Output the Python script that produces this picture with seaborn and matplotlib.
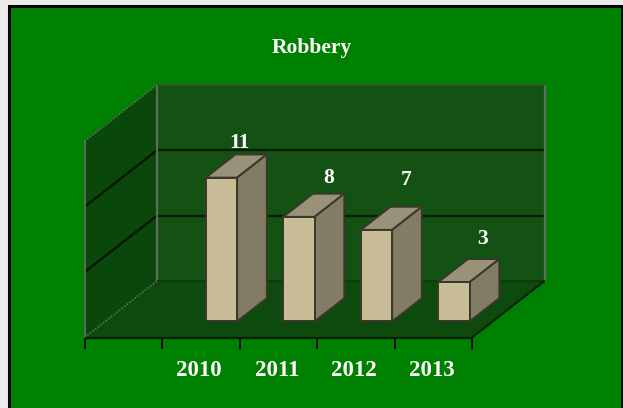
import numpy as np
import matplotlib
matplotlib.use("Agg")
import matplotlib.pyplot as plt
from matplotlib.lines import Line2D
from matplotlib.patches import Polygon, Rectangle
from matplotlib.transforms import Affine2D, IdentityTransform
import seaborn as sns

years = ["2010", "2011", "2012", "2013"]
robbery = [11, 8, 7, 3]
y_grid = [5, 10]
title = "Robbery"
label_shift = [(18, 35), (30, 39), (30, 50), (29, 43)]

W, H = 623, 408
sns.set_theme(style="white")
plt.rcParams["font.family"] = ["Liberation Serif", "DejaVu Serif"]
plt.rcParams["font.weight"] = "bold"

fig = plt.figure(figsize=(W / 100, H / 100), dpi=100, facecolor="#ebebeb")

# page panel: open at the bottom, running off the image
fig.patches.append(Rectangle((9 / W, -10 / H), (621.5 - 9) / W, (H + 10 - 6) / H, transform=fig.transFigure,
                             facecolor="#008000", edgecolor="black", linewidth=2.2, zorder=-5))

# axes = front plane of the chart box
x0, x1, yb = 84.5, 472, 337.5
ymax = 15
ppu = 13.07
ax = fig.add_axes([x0 / W, (H - yb) / H, (x1 - x0) / W, ymax * ppu / H])
ax.set_xlim(-1.5, 3.5)
ax.set_ylim(0, ymax)
ax.patch.set_visible(False)

DX, DY = 72.5, 56.5   # depth of the box in pixels
PIX = IdentityTransform()


def depth(d):
    return ax.transData + Affine2D().translate(d * DX, d * DY)


L, R = -1.5, 3.5
WALL, SIDE, FLOOR = "#145214", "#0a470a", "#0e4a0e"
EDGE = "#5d6e5d"

back, front = depth(1), depth(0)


def poly(a, b, c, d, **kw):
    pts = [t.transform(p) for t, p in (a, b, c, d)]
    ax.add_patch(Polygon(pts, closed=True, transform=PIX, clip_on=False, **kw))


poly((front, (L, 0)), (front, (L, ymax)), (back, (L, ymax)), (back, (L, 0)),
     facecolor=SIDE, edgecolor="none", zorder=1)
poly((back, (L, 0)), (back, (L, ymax)), (back, (R, ymax)), (back, (R, 0)),
     facecolor=WALL, edgecolor="none", zorder=1)
poly((front, (L, 0)), (back, (L, 0)), (back, (R, 0)), (front, (R, 0)),
     facecolor=FLOOR, edgecolor="none", zorder=1)


def seg(a, b, color, lw, ls="-", z=2):
    p, q = a[0].transform(a[1]), b[0].transform(b[1])
    ax.add_line(Line2D([p[0], q[0]], [p[1], q[1]], transform=PIX, color=color, lw=lw, ls=ls,
                       clip_on=False, zorder=z, solid_capstyle="butt"))


for v in y_grid:
    seg((front, (L, v)), (back, (L, v)), "#021802", 1.7)
    seg((back, (L, v)), (back, (R, v)), "#031c03", 1.7)

seg((front, (L, 0)), (front, (L, ymax)), EDGE, 1.4)
seg((back, (L, 0)), (back, (L, ymax)), EDGE, 1.6)
seg((back, (R, 0)), (back, (R, ymax)), EDGE, 1.6)
seg((back, (L, ymax)), (back, (R, ymax)), "#2c5a2c", 1.2)
seg((front, (L, ymax)), (back, (L, ymax)), EDGE, 1.2, ls=(0, (1, 1)))
seg((front, (L, 0)), (back, (L, 0)), EDGE, 1.2, ls=(0, (1, 1)))
seg((back, (L, 0)), (back, (R, 0)), "#0a3a0a", 1.2)
seg((front, (L, 0)), (front, (R, 0)), "#052005", 1.6, z=6)
seg((front, (R, 0)), (back, (R, 0)), "#052005", 1.4, z=6)

# bars
D0, DB = 0.285, 0.41
BW = 0.405
FACE, TOP, RIGHT, OUT = "#c8bd96", "#9a9278", "#827c64", "#38382a"
sns.barplot(x=years, y=robbery, ax=ax, width=BW, color=FACE, saturation=1,
            edgecolor=OUT, linewidth=1.4, zorder=5)
ax.set_xlim(-1.5, 3.5)
ax.set_ylim(0, ymax)
bars = list(ax.containers[0])
tb0 = depth(D0)
tb1 = depth(D0 + DB)
for bar in bars:
    bar.set_transform(tb0)
    bar.set_clip_on(False)
    xa, xb, h = bar.get_x(), bar.get_x() + bar.get_width(), bar.get_height()
    poly((tb0, (xa, h)), (tb1, (xa, h)), (tb1, (xb, h)), (tb0, (xb, h)),
         facecolor=TOP, edgecolor=OUT, linewidth=1.4, zorder=4, joinstyle="round")
    poly((tb0, (xb, 0)), (tb0, (xb, h)), (tb1, (xb, h)), (tb1, (xb, 0)),
         facecolor=RIGHT, edgecolor=OUT, linewidth=1.4, zorder=4, joinstyle="round")

# value labels
for i, (bar, v) in enumerate(zip(bars, robbery)):
    sx, sy = label_shift[i]
    px = tb0.transform((bar.get_x() + bar.get_width() / 2, v))
    fig.text((px[0] + sx) / W, (px[1] + sy) / H, str(v), color="white", fontsize=15.5,
             fontweight="bold", ha="center", va="center")

# axes decoration
for s in ax.spines.values():
    s.set_visible(False)
ax.set_xlabel("")
ax.set_ylabel("")
ax.set_yticks([])
ax.set_xticks(range(len(years)))
ax.set_xticklabels(years, color="white", fontsize=16.5, fontweight="bold")
ax.set_xticks(np.arange(L, R + 0.5), minor=True)
ax.tick_params(axis="x", which="major", length=0, pad=16.5)
ax.tick_params(axis="x", which="minor", length=8, width=1.3, color="black", bottom=True)
for lab in ax.get_xticklabels():
    lab.set_transform(lab.get_transform() + Affine2D().translate(-1.5, 0))

fig.text(311.5 / W, (H - 48) / H, title, color="white", fontsize=15.5, fontweight="bold",
         ha="center", va="center")

fig.savefig("out.png", dpi=100, facecolor=fig.get_facecolor())
